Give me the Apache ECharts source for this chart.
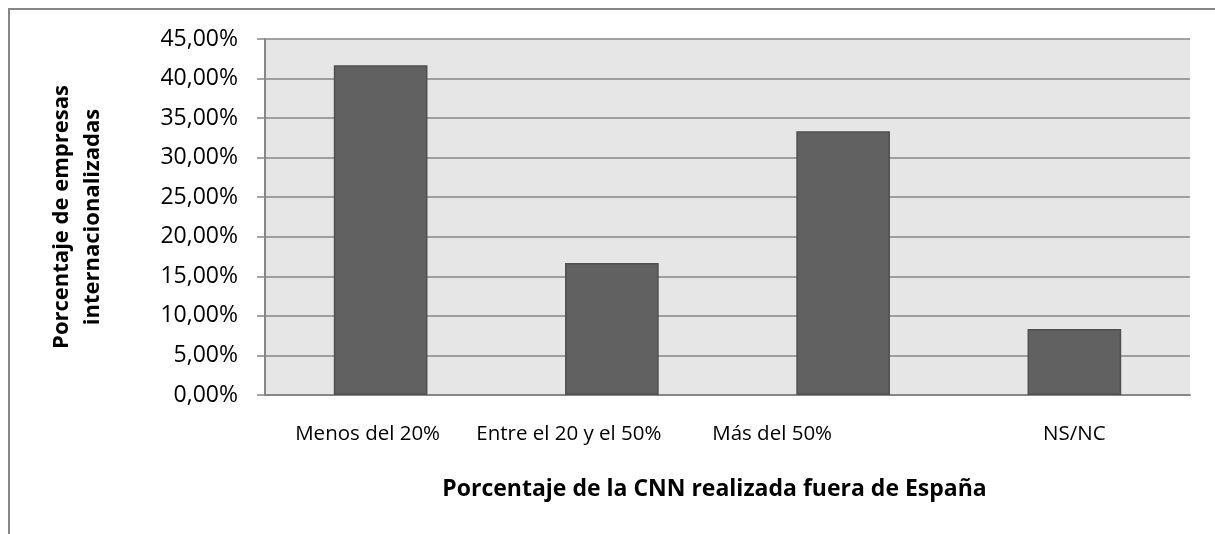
<!DOCTYPE html>
<html>
<head>
<meta charset="utf-8">
<script src="https://cdn.jsdelivr.net/npm/echarts@6/dist/echarts.min.js"></script>
<style>
html,body{margin:0;padding:0;background:#fff;}
#c{width:1215px;height:534px;}
</style>
</head>
<body>
<div id="c"></div>
<script>
var categories = ['Menos del 20%', 'Entre el 20 y el 50%', 'Más del 50%', 'NS/NC'];
var values = [0.4167, 0.1667, 0.3333, 0.0833];
var yTitle = 'Porcentaje de empresas\ninternacionalizadas';
var xTitle = 'Porcentaje de la CNN realizada fuera de España';
var yMax = 0.45;
var yInterval = 0.05;

var FONT = 'Open Sans';
// label styles: the reference shifts some category labels left of their bars
var labelRich = {
  l0: {fontFamily: FONT, fontSize: 20.5, color: '#000', padding: [0, 26, 0, 0]},
  l1: {fontFamily: FONT, fontSize: 20.5, color: '#000', padding: [0, 86, 0, 0]},
  l2: {fontFamily: FONT, fontSize: 20.5, color: '#000', padding: [0, 142, 0, 0]},
  l3: {fontFamily: FONT, fontSize: 20.5, color: '#000', padding: [0, 0, 0, 0]}
};
var chart = echarts.init(document.getElementById('c'), null, {renderer: 'canvas'});
chart.setOption({
  animation: false,
  backgroundColor: '#ffffff',
  graphic: [{
    type: 'rect',
    shape: {x: 9, y: 9, width: 1230, height: 560},
    style: {fill: 'none', stroke: '#878787', lineWidth: 2},
    silent: true
  }],
  grid: {
    left: 265, right: 25, top: 39, bottom: 139,
    show: true, backgroundColor: '#e6e6e6', borderWidth: 0
  },
  xAxis: {
    type: 'category',
    data: categories,
    axisLine: {show: true, lineStyle: {color: '#868686', width: 2}},
    axisTick: {show: false},
    axisLabel: {
      color: '#000', fontFamily: FONT, fontSize: 20.5, margin: 29, interval: 0, hideOverlap: false,
      formatter: function (v, i) { return '{l' + i + '|' + v + '}'; },
      rich: labelRich
    },
    name: xTitle,
    nameLocation: 'middle',
    nameGap: 83,
    nameTextStyle: {color: '#000', fontFamily: FONT, fontSize: 23, fontWeight: 'bold', padding: [0, 26, 0, 0]}
  },
  yAxis: {
    type: 'value',
    min: 0, max: yMax, interval: yInterval,
    axisLine: {show: true, lineStyle: {color: '#868686', width: 2}},
    axisTick: {show: true, length: 8, lineStyle: {color: '#868686', width: 1.5}},
    splitLine: {show: true, lineStyle: {color: '#868686', width: 1.5}},
    axisLabel: {
      color: '#000', fontFamily: FONT, fontSize: 23, margin: 27,
      formatter: function (v) { return (v * 100).toFixed(2).replace('.', ',') + '%'; }
    },
    name: yTitle,
    nameLocation: 'middle',
    nameRotate: 90,
    nameGap: 157,
    nameTextStyle: {color: '#000', fontFamily: FONT, fontSize: 22, fontWeight: 'bold', lineHeight: 31, align: 'center'}
  },
  series: [{
    type: 'bar',
    data: values,
    barWidth: '40.5%',
    itemStyle: {color: '#616161', borderColor: '#4f4f4f', borderWidth: 1.5}
  }]
});
</script>
</body>
</html>
